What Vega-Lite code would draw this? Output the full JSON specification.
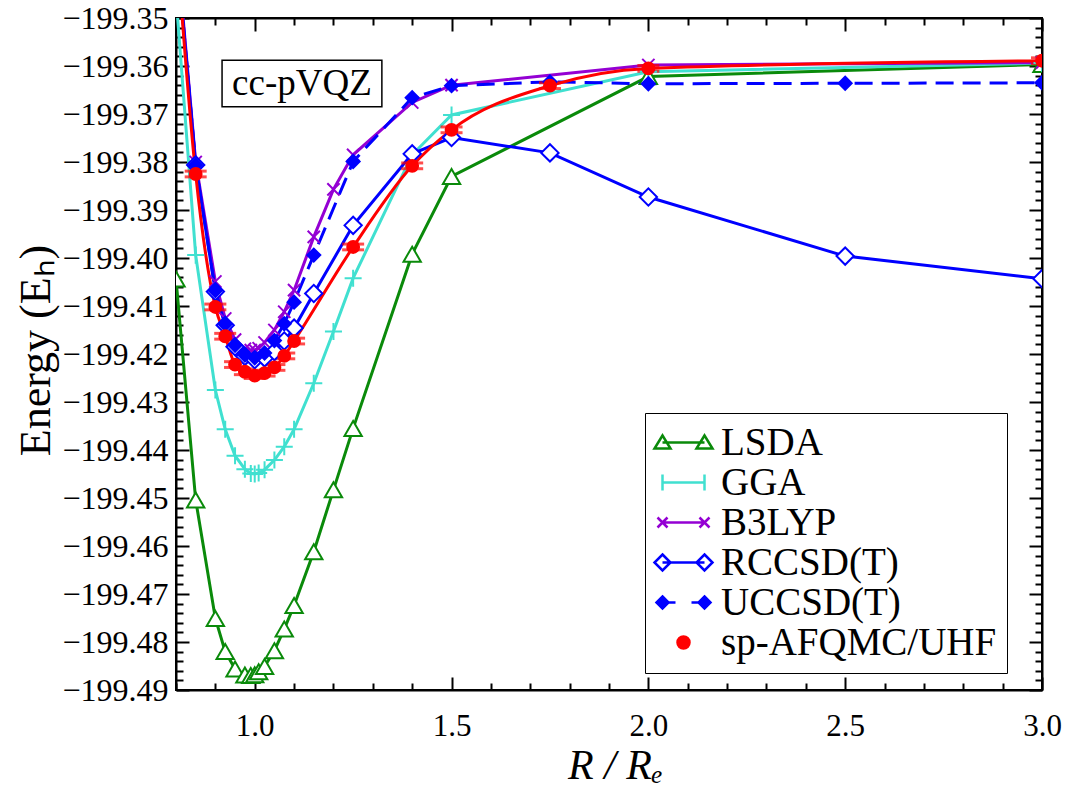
{
  "$schema": "https://vega.github.io/schema/vega-lite/v6.json",
  "width": 866,
  "height": 672,
  "autosize": "none",
  "padding": {"left": 176, "top": 18, "right": 23, "bottom": 98},
  "background": "white",
  "config": {
    "view": {"stroke": "black", "strokeWidth": 2},
    "font": "Liberation Serif",
    "style": {"guide-label": {"font": "Liberation Serif"}, "guide-title": {"font": "Liberation Serif"}},
    "axis": {
      "grid": false,
      "domainColor": "black",
      "domainWidth": 2,
      "tickColor": "black",
      "tickWidth": 2,
      "labelFont": "Liberation Serif",
      "labelFontSize": 31,
      "labelColor": "black",
      "labelFlush": false,
      "labelOverlap": false,
      "labelBound": false,
      "titleFont": "Liberation Serif",
      "titleFontSize": 42,
      "titleFontWeight": "normal",
      "titleColor": "black"
    }
  },
  "data": {"name": "curves", "values": [
    {"m": "LSDA", "R": 0.8, "E": -199.4044}, {"m": "LSDA", "R": 0.85, "E": -199.4504}, {"m": "LSDA", "R": 0.9, "E": -199.4751}, {"m": "LSDA", "R": 0.925, "E": -199.482}, {"m": "LSDA", "R": 0.95, "E": -199.4856}, {"m": "LSDA", "R": 0.975, "E": -199.4869}, {"m": "LSDA", "R": 0.99, "E": -199.487}, {"m": "LSDA", "R": 1.0, "E": -199.4868}, {"m": "LSDA", "R": 1.01, "E": -199.4862}, {"m": "LSDA", "R": 1.025, "E": -199.4851}, {"m": "LSDA", "R": 1.05, "E": -199.4818}, {"m": "LSDA", "R": 1.075, "E": -199.4773}, {"m": "LSDA", "R": 1.1, "E": -199.4724}, {"m": "LSDA", "R": 1.15, "E": -199.4612}, {"m": "LSDA", "R": 1.2, "E": -199.4483}, {"m": "LSDA", "R": 1.25, "E": -199.4355}, {"m": "LSDA", "R": 1.4, "E": -199.3992}, {"m": "LSDA", "R": 1.5, "E": -199.383}, {"m": "LSDA", "R": 2.0, "E": -199.3622}, {"m": "LSDA", "R": 3.0, "E": -199.3597},
    {"m": "GGA", "R": 0.8, "E": -199.3455}, {"m": "GGA", "R": 0.85, "E": -199.3994}, {"m": "GGA", "R": 0.9, "E": -199.4275}, {"m": "GGA", "R": 0.925, "E": -199.4357}, {"m": "GGA", "R": 0.95, "E": -199.4412}, {"m": "GGA", "R": 0.975, "E": -199.444}, {"m": "GGA", "R": 0.99, "E": -199.4449}, {"m": "GGA", "R": 1.0, "E": -199.445}, {"m": "GGA", "R": 1.01, "E": -199.4448}, {"m": "GGA", "R": 1.025, "E": -199.4441}, {"m": "GGA", "R": 1.05, "E": -199.4421}, {"m": "GGA", "R": 1.075, "E": -199.4393}, {"m": "GGA", "R": 1.1, "E": -199.4357}, {"m": "GGA", "R": 1.15, "E": -199.4261}, {"m": "GGA", "R": 1.2, "E": -199.4153}, {"m": "GGA", "R": 1.25, "E": -199.4042}, {"m": "GGA", "R": 1.4, "E": -199.3785}, {"m": "GGA", "R": 1.5, "E": -199.3702}, {"m": "GGA", "R": 2.0, "E": -199.3612}, {"m": "GGA", "R": 3.0, "E": -199.3594},
    {"m": "B3LYP", "R": 0.8, "E": -199.333}, {"m": "B3LYP", "R": 0.85, "E": -199.38}, {"m": "B3LYP", "R": 0.9, "E": -199.4049}, {"m": "B3LYP", "R": 0.925, "E": -199.4126}, {"m": "B3LYP", "R": 0.95, "E": -199.417}, {"m": "B3LYP", "R": 0.975, "E": -199.4189}, {"m": "B3LYP", "R": 0.99, "E": -199.4192}, {"m": "B3LYP", "R": 1.0, "E": -199.4192}, {"m": "B3LYP", "R": 1.01, "E": -199.4188}, {"m": "B3LYP", "R": 1.025, "E": -199.4176}, {"m": "B3LYP", "R": 1.05, "E": -199.415}, {"m": "B3LYP", "R": 1.075, "E": -199.4112}, {"m": "B3LYP", "R": 1.1, "E": -199.4067}, {"m": "B3LYP", "R": 1.15, "E": -199.3956}, {"m": "B3LYP", "R": 1.2, "E": -199.3857}, {"m": "B3LYP", "R": 1.25, "E": -199.3785}, {"m": "B3LYP", "R": 1.4, "E": -199.3676}, {"m": "B3LYP", "R": 1.5, "E": -199.364}, {"m": "B3LYP", "R": 2.0, "E": -199.3598}, {"m": "B3LYP", "R": 3.0, "E": -199.3593},
    {"m": "RCCSD(T)", "R": 0.8, "E": -199.334}, {"m": "RCCSD(T)", "R": 0.85, "E": -199.3806}, {"m": "RCCSD(T)", "R": 0.9, "E": -199.407}, {"m": "RCCSD(T)", "R": 0.925, "E": -199.414}, {"m": "RCCSD(T)", "R": 0.95, "E": -199.4185}, {"m": "RCCSD(T)", "R": 0.975, "E": -199.4205}, {"m": "RCCSD(T)", "R": 1.0, "E": -199.4212}, {"m": "RCCSD(T)", "R": 1.025, "E": -199.4208}, {"m": "RCCSD(T)", "R": 1.05, "E": -199.4195}, {"m": "RCCSD(T)", "R": 1.075, "E": -199.4173}, {"m": "RCCSD(T)", "R": 1.1, "E": -199.4146}, {"m": "RCCSD(T)", "R": 1.15, "E": -199.4074}, {"m": "RCCSD(T)", "R": 1.25, "E": -199.3932}, {"m": "RCCSD(T)", "R": 1.4, "E": -199.3783}, {"m": "RCCSD(T)", "R": 1.5, "E": -199.3749}, {"m": "RCCSD(T)", "R": 1.75, "E": -199.3781}, {"m": "RCCSD(T)", "R": 2.0, "E": -199.3873}, {"m": "RCCSD(T)", "R": 2.5, "E": -199.3996}, {"m": "RCCSD(T)", "R": 3.0, "E": -199.4043},
    {"m": "UCCSD(T)", "R": 0.8, "E": -199.334}, {"m": "UCCSD(T)", "R": 0.85, "E": -199.3806}, {"m": "UCCSD(T)", "R": 0.9, "E": -199.4068}, {"m": "UCCSD(T)", "R": 0.925, "E": -199.4138}, {"m": "UCCSD(T)", "R": 0.95, "E": -199.4182}, {"m": "UCCSD(T)", "R": 0.975, "E": -199.4202}, {"m": "UCCSD(T)", "R": 1.0, "E": -199.4208}, {"m": "UCCSD(T)", "R": 1.025, "E": -199.4198}, {"m": "UCCSD(T)", "R": 1.05, "E": -199.4172}, {"m": "UCCSD(T)", "R": 1.075, "E": -199.4137}, {"m": "UCCSD(T)", "R": 1.1, "E": -199.4092}, {"m": "UCCSD(T)", "R": 1.15, "E": -199.3994}, {"m": "UCCSD(T)", "R": 1.25, "E": -199.3799}, {"m": "UCCSD(T)", "R": 1.4, "E": -199.3666}, {"m": "UCCSD(T)", "R": 1.5, "E": -199.3641}, {"m": "UCCSD(T)", "R": 1.75, "E": -199.3633}, {"m": "UCCSD(T)", "R": 2.0, "E": -199.3637}, {"m": "UCCSD(T)", "R": 2.5, "E": -199.3636}, {"m": "UCCSD(T)", "R": 3.0, "E": -199.3635},
    {"m": "sp-AFQMC/UHF", "R": 0.8, "E": -199.333, "err": 0.0006}, {"m": "sp-AFQMC/UHF", "R": 0.85, "E": -199.3825, "err": 0.0006}, {"m": "sp-AFQMC/UHF", "R": 0.9, "E": -199.4102, "err": 0.0006}, {"m": "sp-AFQMC/UHF", "R": 0.925, "E": -199.4163, "err": 0.0006}, {"m": "sp-AFQMC/UHF", "R": 0.95, "E": -199.4222, "err": 0.0006}, {"m": "sp-AFQMC/UHF", "R": 0.975, "E": -199.4237, "err": 0.0006}, {"m": "sp-AFQMC/UHF", "R": 1.0, "E": -199.4245, "err": 0.0006}, {"m": "sp-AFQMC/UHF", "R": 1.025, "E": -199.424, "err": 0.0006}, {"m": "sp-AFQMC/UHF", "R": 1.05, "E": -199.4228, "err": 0.0006}, {"m": "sp-AFQMC/UHF", "R": 1.075, "E": -199.4204, "err": 0.0006}, {"m": "sp-AFQMC/UHF", "R": 1.1, "E": -199.4173, "err": 0.0006}, {"m": "sp-AFQMC/UHF", "R": 1.25, "E": -199.3977, "err": 0.0006}, {"m": "sp-AFQMC/UHF", "R": 1.4, "E": -199.3808, "err": 0.0006}, {"m": "sp-AFQMC/UHF", "R": 1.5, "E": -199.3733, "err": 0.0006}, {"m": "sp-AFQMC/UHF", "R": 1.75, "E": -199.3641, "err": 0.0006}, {"m": "sp-AFQMC/UHF", "R": 2.0, "E": -199.3605, "err": 0.0006}, {"m": "sp-AFQMC/UHF", "R": 3.0, "E": -199.3589, "err": 0.0006}
  ]},
  "layer": [
    {
      "data": {"values": [{}]},
      "mark": {"type": "rect", "fill": "white", "stroke": "black", "strokeWidth": 1.5},
      "encoding": {
        "x": {"datum": 0.917, "type": "quantitative", "scale": {"domain": [0.8, 3.0], "nice": false, "zero": false}, "axis": null},
        "x2": {"datum": 1.323},
        "y": {"datum": -199.3588, "type": "quantitative", "scale": {"domain": [-199.49, -199.35], "nice": false, "zero": false}, "axis": null},
        "y2": {"datum": -199.3685}
      }
    },
    {
      "data": {"values": [{}]},
      "mark": {"type": "text", "font": "Liberation Serif", "fontSize": 37, "align": "center", "baseline": "middle", "color": "black"},
      "encoding": {
        "x": {"datum": 1.12, "type": "quantitative", "axis": null},
        "y": {"datum": -199.3637, "type": "quantitative", "axis": null},
        "text": {"value": "cc-pVQZ"}
      }
    },
    {
      "transform": [{"filter": "datum.m === 'LSDA'"}],
      "mark": {"type": "line", "strokeWidth": 3, "clip": true, "stroke": "#0a8a0a"},
      "encoding": {
        "x": {"field": "R", "type": "quantitative",
          "axis": {"orient": "bottom", "title": "R / Rₑ", "titleFontStyle": "italic", "titleFontSize": 42,
            "labelFont": "Liberation Serif", "titleFont": "Liberation Serif", "labelFontSize": 31,
            "values": [0.8, 0.9, 1.0, 1.1, 1.2, 1.3, 1.4, 1.5, 1.6, 1.7, 1.8, 1.9, 2.0, 2.1, 2.2, 2.3, 2.4, 2.5, 2.6, 2.7, 2.8, 2.9, 3.0],
            "labelExpr": "abs(datum.value*2 - round(datum.value*2)) < 0.001 ? format(datum.value, '.1f') : ''",
            "tickSize": {"condition": {"test": "abs(datum.value*2 - round(datum.value*2)) < 0.001", "value": -13}, "value": -7},
            "labelPadding": 34, "titleX": 439, "titleY": 75, "titleBaseline": "middle", "titleAlign": "center"}},
        "y": {"field": "E", "type": "quantitative",
          "axis": {"orient": "left", "title": "Energy (Eₕ)",
            "labelFont": "Liberation Serif", "titleFont": "Liberation Serif", "labelFontSize": 32, "titleFontSize": 44,
            "values": [-199.49, -199.488, -199.486, -199.484, -199.482, -199.48, -199.478, -199.476, -199.474, -199.472, -199.47, -199.468, -199.466, -199.464, -199.462, -199.46, -199.458, -199.456, -199.454, -199.452, -199.45, -199.448, -199.446, -199.444, -199.442, -199.44, -199.438, -199.436, -199.434, -199.432, -199.43, -199.428, -199.426, -199.424, -199.422, -199.42, -199.418, -199.416, -199.414, -199.412, -199.41, -199.408, -199.406, -199.404, -199.402, -199.4, -199.398, -199.396, -199.394, -199.392, -199.39, -199.388, -199.386, -199.384, -199.382, -199.38, -199.378, -199.376, -199.374, -199.372, -199.37, -199.368, -199.366, -199.364, -199.362, -199.36, -199.358, -199.356, -199.354, -199.352, -199.35],
            "labelExpr": "abs(datum.value*100 - round(datum.value*100)) < 0.001 ? format(datum.value, '.2f') : ''",
            "tickSize": {"condition": {"test": "abs(datum.value*100 - round(datum.value*100)) < 0.001", "value": -13}, "value": -7},
            "labelPadding": 21, "titleX": -140, "titleY": 332, "titleBaseline": "middle", "titleAlign": "center", "titleAngle": -90}}
      }
    },
    {
      "transform": [{"filter": "datum.m === 'GGA'"}],
      "mark": {"type": "line", "strokeWidth": 3, "clip": true, "stroke": "#40e0d0"},
      "encoding": {"x": {"field": "R", "type": "quantitative", "axis": null}, "y": {"field": "E", "type": "quantitative", "axis": null}}
    },
    {
      "transform": [{"filter": "datum.m === 'B3LYP'"}],
      "mark": {"type": "line", "strokeWidth": 3, "clip": true, "stroke": "#9400d3"},
      "encoding": {"x": {"field": "R", "type": "quantitative", "axis": null}, "y": {"field": "E", "type": "quantitative", "axis": null}}
    },
    {
      "transform": [{"filter": "datum.m === 'RCCSD(T)'"}],
      "mark": {"type": "line", "strokeWidth": 3, "clip": true, "stroke": "#0000ff"},
      "encoding": {"x": {"field": "R", "type": "quantitative", "axis": null}, "y": {"field": "E", "type": "quantitative", "axis": null}}
    },
    {
      "transform": [{"filter": "datum.m === 'UCCSD(T)'"}],
      "mark": {"type": "line", "strokeWidth": 3, "strokeDash": [18, 9], "clip": true, "stroke": "#0000ff"},
      "encoding": {
        "x": {"field": "R", "type": "quantitative",
          "axis": {"orient": "top", "title": null, "labels": false,
            "values": [0.8, 0.9, 1.0, 1.1, 1.2, 1.3, 1.4, 1.5, 1.6, 1.7, 1.8, 1.9, 2.0, 2.1, 2.2, 2.3, 2.4, 2.5, 2.6, 2.7, 2.8, 2.9, 3.0],
            "tickSize": {"condition": {"test": "abs(datum.value*2 - round(datum.value*2)) < 0.001", "value": -13}, "value": -7}}},
        "y": {"field": "E", "type": "quantitative",
          "axis": {"orient": "right", "title": null, "labels": false,
            "values": [-199.49, -199.488, -199.486, -199.484, -199.482, -199.48, -199.478, -199.476, -199.474, -199.472, -199.47, -199.468, -199.466, -199.464, -199.462, -199.46, -199.458, -199.456, -199.454, -199.452, -199.45, -199.448, -199.446, -199.444, -199.442, -199.44, -199.438, -199.436, -199.434, -199.432, -199.43, -199.428, -199.426, -199.424, -199.422, -199.42, -199.418, -199.416, -199.414, -199.412, -199.41, -199.408, -199.406, -199.404, -199.402, -199.4, -199.398, -199.396, -199.394, -199.392, -199.39, -199.388, -199.386, -199.384, -199.382, -199.38, -199.378, -199.376, -199.374, -199.372, -199.37, -199.368, -199.366, -199.364, -199.362, -199.36, -199.358, -199.356, -199.354, -199.352, -199.35],
            "tickSize": {"condition": {"test": "abs(datum.value*100 - round(datum.value*100)) < 0.001", "value": -13}, "value": -7}}}
      }
    },
    {
      "transform": [{"filter": "datum.m === 'sp-AFQMC/UHF'"}],
      "mark": {"type": "line", "strokeWidth": 3, "interpolate": "monotone", "clip": true, "stroke": "#ff0000"},
      "encoding": {"x": {"field": "R", "type": "quantitative", "axis": null}, "y": {"field": "E", "type": "quantitative", "axis": null}}
    },
    {
      "transform": [{"filter": "datum.m === 'sp-AFQMC/UHF'"}],
      "mark": {"type": "errorbar", "clip": true, "color": "#ff0000", "ticks": {"size": 22, "thickness": 3, "color": "#ff0000"}, "rule": {"strokeWidth": 3, "color": "#ff0000"}},
      "encoding": {
        "x": {"field": "R", "type": "quantitative", "axis": null},
        "y": {"field": "E", "type": "quantitative", "axis": null},
        "yError": {"field": "err"}
      }
    },
    {
      "transform": [{"filter": "datum.m === 'LSDA'"}],
      "mark": {"type": "point", "filled": true, "shape": "triangle-up", "size": 300, "fill": "white", "stroke": "#0a8a0a", "strokeWidth": 2, "opacity": 1, "clip": true},
      "encoding": {"x": {"field": "R", "type": "quantitative", "axis": null}, "y": {"field": "E", "type": "quantitative", "axis": null}}
    },
    {
      "transform": [{"filter": "datum.m === 'GGA'"}],
      "mark": {"type": "point", "filled": false, "shape": "M-1,0H1M0,-1V1", "size": 290, "stroke": "#40e0d0", "strokeWidth": 2, "opacity": 1, "clip": true},
      "encoding": {"x": {"field": "R", "type": "quantitative", "axis": null}, "y": {"field": "E", "type": "quantitative", "axis": null}}
    },
    {
      "transform": [{"filter": "datum.m === 'B3LYP'"}],
      "mark": {"type": "point", "filled": false, "shape": "M-1,-1L1,1M-1,1L1,-1", "size": 150, "stroke": "#9400d3", "strokeWidth": 2, "opacity": 1, "clip": true},
      "encoding": {"x": {"field": "R", "type": "quantitative", "axis": null}, "y": {"field": "E", "type": "quantitative", "axis": null}}
    },
    {
      "transform": [{"filter": "datum.m === 'RCCSD(T)'"}],
      "mark": {"type": "point", "filled": true, "shape": "diamond", "size": 300, "fill": "white", "stroke": "#0000ff", "strokeWidth": 2, "opacity": 1, "clip": true},
      "encoding": {"x": {"field": "R", "type": "quantitative", "axis": null}, "y": {"field": "E", "type": "quantitative", "axis": null}}
    },
    {
      "transform": [{"filter": "datum.m === 'UCCSD(T)'"}],
      "mark": {"type": "point", "filled": true, "shape": "diamond", "size": 170, "fill": "#0000ff", "stroke": "#0000ff", "strokeWidth": 2, "opacity": 1, "clip": true},
      "encoding": {"x": {"field": "R", "type": "quantitative", "axis": null}, "y": {"field": "E", "type": "quantitative", "axis": null}}
    },
    {
      "transform": [{"filter": "datum.m === 'sp-AFQMC/UHF'"}],
      "mark": {"type": "point", "filled": true, "shape": "circle", "size": 140, "fill": "#ff0000", "stroke": "#ff0000", "strokeWidth": 2, "opacity": 1, "clip": true},
      "encoding": {"x": {"field": "R", "type": "quantitative", "axis": null}, "y": {"field": "E", "type": "quantitative", "axis": null}}
    },
    {
      "transform": [{"filter": "false"}],
      "mark": {"type": "point", "size": 100, "strokeWidth": 2.5, "opacity": 1, "clip": true},
      "encoding": {
        "x": {"field": "R", "type": "quantitative", "axis": null},
        "y": {"field": "E", "type": "quantitative", "axis": null},
        "stroke": {"field": "m", "type": "nominal",
          "scale": {"domain": ["LSDA", "GGA", "B3LYP", "RCCSD(T)", "UCCSD(T)", "sp-AFQMC/UHF"], "range": ["#0a8a0a", "#40e0d0", "#9400d3", "#0000ff", "#0000ff", "#ff0000"]}},
        "fill": {"field": "m", "type": "nominal",
          "scale": {"domain": ["LSDA", "GGA", "B3LYP", "RCCSD(T)", "UCCSD(T)", "sp-AFQMC/UHF"], "range": ["white", "transparent", "transparent", "white", "#0000ff", "#ff0000"]}},
        "shape": {"field": "m", "type": "nominal",
          "scale": {"domain": ["LSDA", "GGA", "B3LYP", "RCCSD(T)", "UCCSD(T)", "sp-AFQMC/UHF"],
            "range": [
              "M-4.2,0H4.2M-4.2,-1.4L-2.6,1.2L-5.8,1.2ZM4.2,-1.4L5.8,1.2L2.6,1.2Z",
              "M-4.2,0H4.2M-4.2,-1.6V1.6M4.2,-1.6V1.6",
              "M-4.2,0H4.2M-5.2,-1L-3.2,1M-5.2,1L-3.2,-1M3.2,-1L5.2,1M3.2,1L5.2,-1",
              "M-4.2,0H4.2M-4.2,-1.6L-2.6,0L-4.2,1.6L-5.8,0ZM4.2,-1.6L5.8,0L4.2,1.6L2.6,0Z",
              "M-4.2,-1.2L-3,0L-4.2,1.2L-5.4,0ZM4.2,-1.2L5.4,0L4.2,1.2L3,0ZM-4.2,0H-1.6M1.6,0H4.2",
              "M-1.2,0A1.2,1.2,0,1,1,1.2,0A1.2,1.2,0,1,1,-1.2,0Z"
            ]},
          "legend": {
            "orient": "none", "legendX": 469, "legendY": 395, "title": null,
            "labelFont": "Liberation Serif", "labelFontSize": 39, "labelColor": "black", "labelLimit": 600,
            "labelOffset": 18, "symbolOffset": 9, "symbolSize": 100, "symbolStrokeWidth": 2.5, "symbolOpacity": 1, "rowPadding": -3,
            "padding": 10, "strokeColor": "black", "fillColor": "white"
          }}
      }
    }
  ],
  "resolve": {"axis": {"x": "independent", "y": "independent"}}
}
